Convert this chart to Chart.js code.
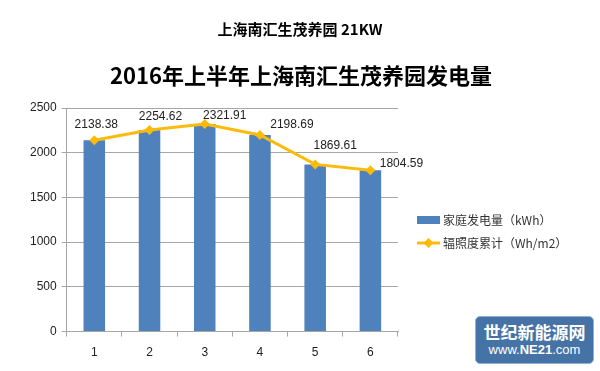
<!DOCTYPE html>
<html>
<head>
<meta charset="utf-8">
<script src="https://cdn.jsdelivr.net/npm/chart.js@4"></script>
<style>
    html, body { margin: 0; padding: 0; background: #fff; }
    #wrap { position: relative; width: 600px; height: 371px; }
    #logo {
        position: absolute; left: 475px; top: 316px; width: 117px; height: 46px;
        background: #4673a6; border: 1px solid #8fb0d4; border-radius: 5px;
        color: #fff; text-align: center; font-family: "Noto Sans CJK SC", sans-serif;
    }
    #logo .cn { font-size: 17px; font-weight: bold; line-height: 20px; margin-top: 5px; }
    #logo .en { font-size: 13px; line-height: 16px; font-family: "Liberation Sans", sans-serif; }
</style>
</head>
<body>
<div id="wrap">
    <canvas id="chart" width="600" height="371"></canvas>
    <div id="logo"><div class="cn">世纪新能源网</div><div class="en">www.<b>NE21</b>.com</div></div>
</div>
<script>
var months = ['1', '2', '3', '4', '5', '6'];
var generation = [2138.38, 2254.62, 2321.91, 2198.69, 1869.61, 1804.59];
var irradiation = [2138.38, 2254.62, 2321.91, 2198.69, 1869.61, 1804.59];
var yTicks = [0, 500, 1000, 1500, 2000, 2500];
var seriesNames = ['家庭发电量（kWh）', '辐照度累计（Wh/m2）'];
var topTitle = '上海南汇生茂养园 21KW';
var mainTitle = '2016年上半年上海南汇生茂养园发电量';

var BLUE = '#4f81bd';
var GOLD = '#fcbb0a';
var GRID = '#a6a6a6';
var TEXT = '#222';

// label offsets relative to each line point (dx, dy)
var labelOffsets = [[2, -16], [11, -13], [20, -8], [32, -10], [20, -19], [31, -7]];

var titles = {
    id: 'titles',
    afterDraw: function(chart) {
        var ctx = chart.ctx;
        ctx.save();
        ctx.fillStyle = '#000';
        ctx.textAlign = 'center';
        ctx.textBaseline = 'middle';
        ctx.font = 'bold 15px "Noto Sans CJK SC", sans-serif';
        ctx.fillText(topTitle, 300, 29);
        ctx.font = 'bold 22px "Noto Sans CJK SC", sans-serif';
        ctx.fillText(mainTitle, 301, 76);
        ctx.restore();
    }
};

var pointLabels = {
    id: 'pointLabels',
    afterDatasetsDraw: function(chart) {
        var ctx = chart.ctx;
        var meta = chart.getDatasetMeta(1);
        ctx.save();
        ctx.font = '12px "Liberation Sans", sans-serif';
        ctx.fillStyle = TEXT;
        ctx.textAlign = 'center';
        ctx.textBaseline = 'middle';
        for (var i = 0; i < meta.data.length; i++) {
            var p = meta.data[i];
            var off = labelOffsets[i];
            ctx.fillText(irradiation[i].toFixed(2), p.x + off[0], p.y + off[1]);
        }
        ctx.restore();
    }
};

var sideLegend = {
    id: 'sideLegend',
    afterDraw: function(chart) {
        var ctx = chart.ctx;
        var x = 417, y1 = 220, y2 = 243;
        ctx.save();
        ctx.fillStyle = BLUE;
        ctx.fillRect(x, y1 - 4, 23, 8);
        ctx.strokeStyle = GOLD;
        ctx.lineWidth = 3;
        ctx.beginPath();
        ctx.moveTo(x, y2);
        ctx.lineTo(x + 23, y2);
        ctx.stroke();
        ctx.fillStyle = GOLD;
        ctx.beginPath();
        ctx.moveTo(x + 11.5, y2 - 5);
        ctx.lineTo(x + 16.5, y2);
        ctx.lineTo(x + 11.5, y2 + 5);
        ctx.lineTo(x + 6.5, y2);
        ctx.closePath();
        ctx.fill();
        ctx.font = '12px "Noto Sans CJK SC", sans-serif';
        ctx.fillStyle = '#333';
        ctx.textBaseline = 'middle';
        ctx.fillText(seriesNames[0], x + 26, y1);
        ctx.fillText(seriesNames[1], x + 26, y2);
        ctx.restore();
    }
};

new Chart(document.getElementById('chart'), {
    type: 'bar',
    data: {
        labels: months,
        datasets: [{
            type: 'bar',
            label: seriesNames[0],
            data: generation,
            backgroundColor: BLUE,
            categoryPercentage: 1,
            barPercentage: 0.39,
            order: 2
        }, {
            type: 'line',
            label: seriesNames[1],
            data: irradiation,
            borderColor: GOLD,
            backgroundColor: GOLD,
            borderWidth: 3,
            pointStyle: 'rectRot',
            pointRadius: 5,
            pointBorderWidth: 0,
            tension: 0,
            order: 1
        }]
    },
    options: {
        responsive: false,
        animation: false,
        layout: { padding: { left: 25, right: 202, top: 108, bottom: 2 } },
        plugins: {
            legend: { display: false },
            tooltip: { enabled: false },
            title: { display: false }
        },
        scales: {
            x: {
                grid: { drawOnChartArea: false, drawTicks: true, tickLength: 5, color: GRID },
                border: { color: GRID },
                ticks: { color: TEXT, padding: 9, font: { family: '"Liberation Sans", sans-serif', size: 12 } }
            },
            y: {
                min: yTicks[0],
                max: yTicks[yTicks.length - 1],
                afterBuildTicks: function(axis) {
                    axis.ticks = yTicks.map(function(v) { return { value: v }; });
                },
                grid: { color: GRID, tickLength: 5 },
                border: { color: GRID },
                ticks: {
                    color: TEXT,
                    padding: 5,
                    font: { family: '"Liberation Sans", sans-serif', size: 12 },
                    callback: function(v) { return String(v); }
                }
            }
        }
    },
    plugins: [titles, pointLabels, sideLegend]
});
</script>
</body>
</html>
